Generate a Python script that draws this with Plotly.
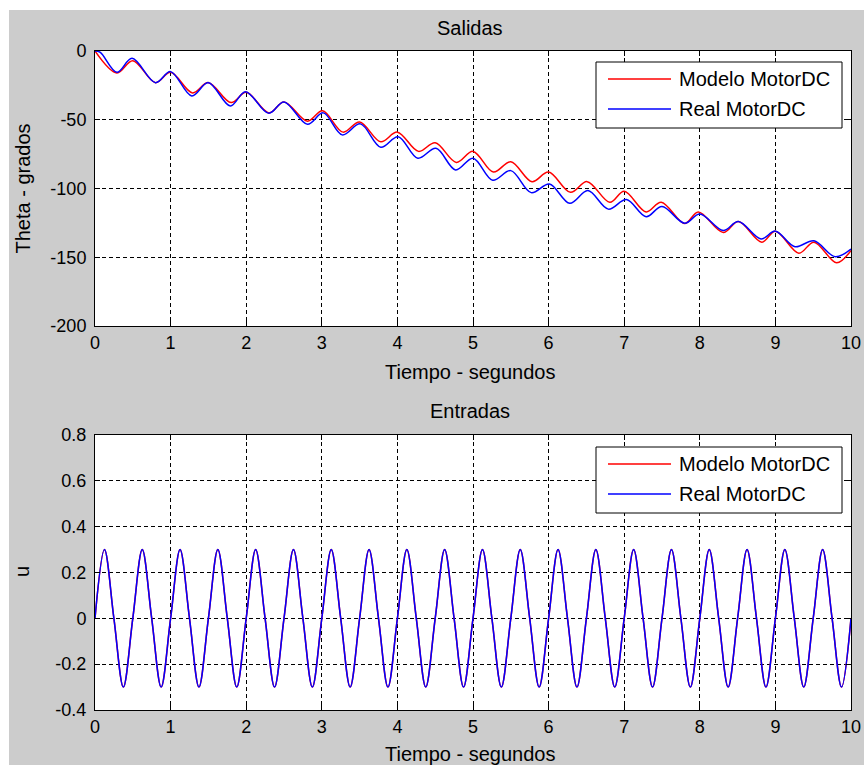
import plotly.graph_objects as go
import numpy as np

# ---------------- data ----------------
# Top plot: Salidas (outputs) -- extremes of each curve
t_model = [0.0, 0.29, 0.50, 0.80, 1.00, 1.29, 1.50, 1.80, 2.00, 2.30, 2.50, 2.81, 3.01,
           3.28, 3.50, 3.78, 4.00, 4.28, 4.50, 4.78, 5.00, 5.27, 5.50, 5.78, 6.00, 6.29,
           6.51, 6.81, 7.00, 7.29, 7.49, 7.80, 7.98, 8.31, 8.51, 8.82, 9.00, 9.31, 9.51,
           9.81, 10.0]
theta_model = [0, -16, -7, -23, -15.5, -30.5, -23, -37.5, -30, -45, -37, -51, -43.5,
               -59, -51.6, -66, -59, -73, -66.7, -81, -73, -88, -80.5, -95, -88, -102.8,
               -95, -110, -102, -117, -110, -125.5, -117, -132, -124, -139, -131, -147, -139,
               -154, -145]

t_real = [0.0, 0.07, 0.29, 0.49, 0.80, 1.00, 1.28, 1.50, 1.79, 1.99, 2.30, 2.50, 2.81,
          3.02, 3.27, 3.51, 3.78, 4.01, 4.27, 4.51, 4.77, 5.00, 5.26, 5.50, 5.77, 6.01,
          6.28, 6.52, 6.79, 7.03, 7.29, 7.50, 7.80, 8.00, 8.31, 8.51, 8.81, 9.00, 9.26,
          9.51, 9.79, 10.0]
theta_real = [0, -1, -15.5, -5.3, -23, -15, -32.7, -23, -40, -29.6, -45.3, -37, -53.3,
              -45, -61, -53, -70, -62.3, -78, -70.8, -86.5, -78, -94, -87, -103, -96.7,
              -110.8, -101.5, -115, -108, -120.5, -113, -125.3, -118.5, -130.5, -124, -136.7, -131, -142.3,
              -138, -149.6, -144]

# Bottom plot: Entradas (inputs) -- samples every 1/8 s
t_u = np.arange(0, 10.0001, 0.125)
u_vals = [0, 0.3, 0, -0.3, 0, 0.3, 0, -0.3, 0, 0.3, 0, -0.3, 0, 0.3, 0, -0.3,
          0, 0.3, 0, -0.3, 0, 0.3, 0, -0.3, 0, 0.3, 0, -0.3, 0, 0.3, 0, -0.3,
          0, 0.3, 0, -0.3, 0, 0.3, 0, -0.3, 0, 0.3, 0, -0.3, 0, 0.3, 0, -0.3,
          0, 0.3, 0, -0.3, 0, 0.3, 0, -0.3, 0, 0.3, 0, -0.3, 0, 0.3, 0, -0.3,
          0, 0.3, 0, -0.3, 0, 0.3, 0, -0.3, 0, 0.3, 0, -0.3, 0, 0.3, 0, -0.3,
          0]

x_ticks = [0, 1, 2, 3, 4, 5, 6, 7, 8, 9, 10]
x_ticktext = ["0", "1", "2", "3", "4", "5", "6", "7", "8", "9", "10"]
y1_ticks = [0, -50, -100, -150, -200]
y1_ticktext = ["0", "-50", "-100", "-150", "-200"]
y2_ticks = [0.8, 0.6, 0.4, 0.2, 0, -0.2, -0.4]
y2_ticktext = ["0.8", "0.6", "0.4", "0.2", "0", "-0.2", "-0.4"]

names = ["Modelo MotorDC", "Real MotorDC"]
RED = "#ff0000"
BLUE = "#0000ff"
colors = [RED, BLUE]
FONT = "Liberation Sans, Arial, sans-serif"

# ---------------- figure ----------------
W, H = 864, 765
ML, MR, MT, MB = 95, 13, 51, 55
PW = W - ML - MR
PH = H - MT - MB


def px_x(px):
    return (px - ML) / PW


def px_y(py):
    return (H - MB - py) / PH


fig = go.Figure()

fig.add_trace(go.Scatter(x=t_model, y=theta_model, mode="lines", name=names[0],
                         line=dict(color=RED, width=1.5, shape="spline", smoothing=1),
                         xaxis="x", yaxis="y"))
fig.add_trace(go.Scatter(x=t_real, y=theta_real, mode="lines", name=names[1],
                         line=dict(color=BLUE, width=1.5, shape="spline", smoothing=1),
                         xaxis="x", yaxis="y"))
fig.add_trace(go.Scatter(x=t_u, y=u_vals, mode="lines", name=names[0],
                         line=dict(color=RED, width=1.5, shape="spline", smoothing=1),
                         xaxis="x2", yaxis="y2"))
fig.add_trace(go.Scatter(x=t_u, y=u_vals, mode="lines", name=names[1],
                         line=dict(color=BLUE, width=1.5, shape="spline", smoothing=1),
                         xaxis="x2", yaxis="y2"))

top_dom = [px_y(326), px_y(51)]
bot_dom = [px_y(710), px_y(435)]

axis_common = dict(
    showline=True, linecolor="black", linewidth=1, mirror="ticks",
    ticks="inside", ticklen=5, tickcolor="black", tickwidth=1,
    showgrid=True, gridcolor="black", gridwidth=1, griddash="4px,3px",
    zeroline=False, automargin=False,
    tickfont=dict(family=FONT, size=18, color="black"),
)

fig.update_layout(
    width=W, height=H,
    margin=dict(l=ML, r=MR, t=MT, b=MB),
    paper_bgcolor="#cccccc", plot_bgcolor="white",
    font=dict(family=FONT, color="black"),
    xaxis=dict(domain=[0, 1], anchor="y", range=[0, 10], tickvals=x_ticks,
               ticktext=x_ticktext, **axis_common),
    yaxis=dict(domain=top_dom, anchor="x", range=[-200, 0], tickvals=y1_ticks,
               ticktext=y1_ticktext, ticklabelstandoff=4, **axis_common),
    xaxis2=dict(domain=[0, 1], anchor="y2", range=[0, 10], tickvals=x_ticks,
                ticktext=x_ticktext, **axis_common),
    yaxis2=dict(domain=bot_dom, anchor="x2", range=[-0.4, 0.8], tickvals=y2_ticks,
                ticktext=y2_ticktext, ticklabelstandoff=4, **axis_common),
    showlegend=False,
)

annots = [
    dict(text="Salidas", x=px_x(470), y=px_y(28)),
    dict(text="Entradas", x=px_x(470), y=px_y(411)),
    dict(text="Tiempo - segundos", x=px_x(470), y=px_y(372)),
    dict(text="Tiempo - segundos", x=px_x(470), y=px_y(754)),
    dict(text="Theta - grados", x=px_x(22), y=px_y(188.5), textangle=-90),
    dict(text="u", x=px_x(22), y=px_y(572), textangle=-90),
]
for a in annots:
    fig.add_annotation(xref="paper", yref="paper", xanchor="center", yanchor="middle",
                       showarrow=False, font=dict(family=FONT, size=20, color="black"), **a)

# legend boxes (MATLAB style: long line samples)
for box_top in (62, 447):
    fig.add_shape(type="rect", xref="paper", yref="paper",
                  x0=px_x(596), x1=px_x(842), y0=px_y(box_top + 66), y1=px_y(box_top),
                  fillcolor="white", line=dict(color="black", width=1), layer="above")
    for i, (nm, col) in enumerate(zip(names, colors)):
        yrow = box_top + 17 + 30 * i
        fig.add_shape(type="line", xref="paper", yref="paper",
                      x0=px_x(608), x1=px_x(671), y0=px_y(yrow), y1=px_y(yrow),
                      line=dict(color=col, width=1.5), layer="above")
        fig.add_annotation(xref="paper", yref="paper", x=px_x(677), y=px_y(yrow),
                           xanchor="left", yanchor="middle", showarrow=False, text=nm,
                           font=dict(family=FONT, size=20, color="black"))

# white strips on the left and top edges of the window
fig.add_shape(type="rect", xref="paper", yref="paper", x0=px_x(0), x1=px_x(9),
              y0=px_y(H), y1=px_y(0), fillcolor="white", line=dict(width=0), layer="below")
fig.add_shape(type="rect", xref="paper", yref="paper", x0=px_x(0), x1=px_x(W),
              y0=px_y(10), y1=px_y(0), fillcolor="white", line=dict(width=0), layer="below")

fig.write_html("out.html")
